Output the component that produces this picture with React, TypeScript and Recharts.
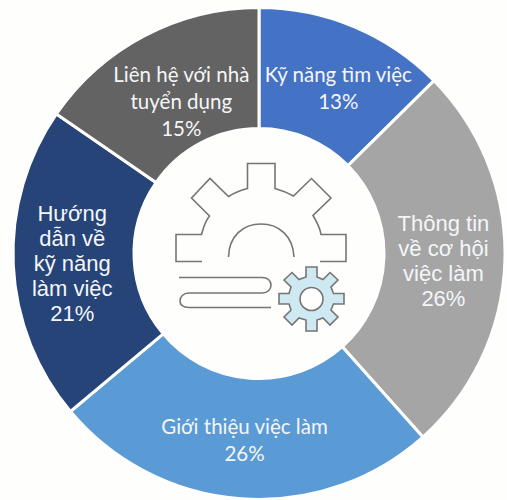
import { PieChart, Pie, Cell } from "recharts"

const CATEGORIES = ["Kỹ năng tìm việc", "Thông tin về cơ hội việc làm", "Giới thiệu việc làm", "Hướng dẫn về kỹ năng làm việc", "Liên hệ với nhà tuyển dụng"]
const VALUES = [12.6, 25.8, 25.5, 20.7, 15.4]
const COLORS = ["#4472c4", "#a5a5a5", "#5b9bd5", "#264478", "#636363"]
const LABEL_LINES = [
  ["Kỹ năng tìm việc"],
  ["Thông tin", "về cơ hội", "việc làm"],
  ["Giới thiệu việc làm"],
  ["Hướng", "dẫn về", "kỹ năng", "làm việc"],
  ["Liên hệ với nhà", "tuyển dụng"],
]
const LABEL_FONTS = ["Lato", "'Liberation Sans'", "Lato", "'Liberation Sans'", "Lato"]
const LABEL_SIZES = [20.5, 22, 20.5, 22, 20.5]
const LABEL_RADII = [0.72, 0.75, 0.76, 0.76, 0.74]
const LABEL_NUDGE = [[11, -3], [0, 2], [-1, 0], [0, 1], [7, 9]]

const data = CATEGORIES.map((name, i) => ({ name, value: VALUES[i] }))

const RAD = Math.PI / 180

const SliceLabel = (props: any) => {
  const { cx, cy, midAngle, outerRadius, index } = props
  const lines = [...LABEL_LINES[index], `${Math.round(VALUES[index])}%`]
  const size = LABEL_SIZES[index]
  const lh = size === 22 ? 25 : 27
  const r = outerRadius * LABEL_RADII[index]
  const x = cx + r * Math.cos(-midAngle * RAD) + LABEL_NUDGE[index][0]
  const y = cy + r * Math.sin(-midAngle * RAD) + LABEL_NUDGE[index][1]
  const top = y - ((lines.length - 1) * lh) / 2
  return (
    <text x={x} y={top} fill="#f4f6f8" textAnchor="middle" fontSize={size} fontFamily={LABEL_FONTS[index]}>
      {lines.map((l, i) => (
        <tspan key={i} x={x} y={top + i * lh} dominantBaseline="central">{l}</tspan>
      ))}
    </text>
  )
}

const GearIcon = () => (
  <svg width={507} height={500} style={{ position: "absolute", left: 0, top: 0 }}>
    <g fill="none" stroke="#757575" strokeWidth={1.6}>
      <path d="M202 261.5H176V234.5H201.5C204 225 207 219 209.5 216L191.5 198L210 178.5L228.5 196.5C234 193 240 190.5 247.5 188.5V163.5H275V188.5C282 190.5 288 193 293.5 196L311.5 178.5L331 198L313 215.5C317 222 320 228 321 234.5H346V261.5H320" />
      <path d="M228.5 257C229 236 243 224 261 224C279 224 293 236 294 257" />
      <path d="M179 277.5H262C268 277.5 271 281 271 285C271 289 268 293 262 293H189C183 293 180 297 180 301C180 305 183 307.5 189 307.5H271" />
    </g>
    <path
      d="M306 267H317V277L323 279.5L330 272.5L338 280L331 287L333.5 293.5H344V304H333.5L331 310L338 317L330 325L323 318L317 320V331H306V320L299 318L292 325L284 317L291 310L289 304H279V293.5H289L291 287L284 280L292 272.5L299 279.5L306 277Z"
      fill="#cfe9f3"
      stroke="#757575"
      strokeWidth={1.6}
    />
    <circle cx={311.5} cy={299} r={11.5} fill="#fefefc" stroke="#757575" strokeWidth={1.6} />
  </svg>
)

export default function App() {
  return (
    <div style={{ position: "fixed", left: 0, top: 0, width: 507, height: 500, background: "#fefefc" }}>
      <PieChart width={507} height={500} margin={{ top: 0, right: 0, bottom: 0, left: 0 }}>
        <Pie
          data={data}
          dataKey="value"
          cx={259}
          cy={253.5}
          innerRadius={125}
          outerRadius={246}
          startAngle={90}
          endAngle={-270}
          stroke="#ffffff"
          strokeWidth={3}
          label={SliceLabel}
          labelLine={false}
          isAnimationActive={false}
        >
          {data.map((d, i) => (
            <Cell key={d.name} fill={COLORS[i]} />
          ))}
        </Pie>
      </PieChart>
      <GearIcon />
    </div>
  )
}
